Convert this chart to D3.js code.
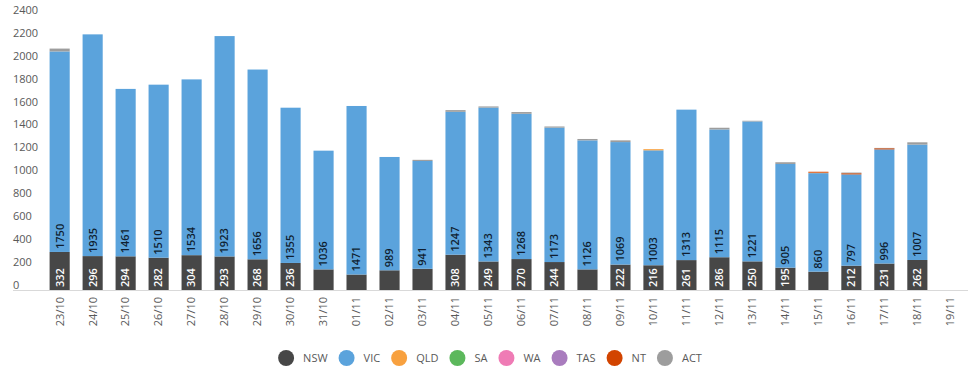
<!DOCTYPE html>
<html lang="en">
<head>
    <meta charset="UTF-8">
    <title>Daily cases by state</title>
    <script src="https://d3js.org/d3.v7.min.js"></script>
    <style>
        body {
            margin: 0;
            background-color: #ffffff;
            font-family: "Open Sans", Arial, sans-serif;
        }

        .axis text {
            font-size: 11px;
            fill: #595959;
        }

        .bar-label {
            font-size: 11px;
            font-weight: 600;
        }

        .legend text {
            font-size: 11px;
            fill: #595959;
        }
    </style>
</head>
<body>
<svg width="978" height="375"></svg>
<script>
    const dates = ["23/10", "24/10", "25/10", "26/10", "27/10", "28/10", "29/10", "30/10", "31/10",
        "01/11", "02/11", "03/11", "04/11", "05/11", "06/11", "07/11", "08/11", "09/11", "10/11",
        "11/11", "12/11", "13/11", "14/11", "15/11", "16/11", "17/11", "18/11", "19/11"];

    const nsw = [332, 296, 294, 282, 304, 293, 268, 236, 180, 135, 172, 185, 308, 249, 270, 244, 180, 222, 216,
        261, 286, 250, 195, 160, 212, 231, 262, 0];
    const vic = [1750, 1935, 1461, 1510, 1534, 1923, 1656, 1355, 1036, 1471, 989, 941, 1247, 1343, 1268, 1173, 1126, 1069, 1003,
        1313, 1115, 1221, 905, 860, 797, 996, 1007, 0];
    const qld = [0, 0, 0, 0, 0, 0, 0, 0, 0, 0, 0, 0, 0, 0, 0, 0, 0, 0, 10, 0, 0, 0, 0, 4, 0, 0, 0, 0];
    const sa  = [0, 0, 0, 0, 0, 0, 0, 0, 0, 0, 0, 0, 0, 0, 0, 0, 0, 0, 0, 0, 0, 0, 0, 0, 0, 0, 0, 0];
    const wa  = [0, 0, 0, 0, 0, 0, 0, 0, 0, 0, 0, 0, 0, 0, 0, 0, 0, 0, 0, 0, 0, 0, 0, 0, 0, 0, 0, 0];
    const tas = [0, 0, 0, 0, 0, 0, 0, 0, 0, 0, 0, 0, 0, 0, 0, 0, 0, 0, 0, 0, 0, 0, 0, 0, 0, 0, 0, 0];
    const nt  = [0, 0, 0, 0, 0, 0, 0, 0, 0, 0, 0, 0, 0, 0, 0, 0, 0, 0, 0, 0, 0, 0, 0, 8, 10, 10, 0, 0];
    const act = [25, 0, 0, 0, 0, 0, 0, 0, 0, 0, 0, 10, 15, 10, 15, 10, 12, 15, 0, 0, 15, 6, 15, 0, 6, 3, 20, 0];

    const states = ["NSW", "VIC", "QLD", "SA", "WA", "TAS", "NT", "ACT"];
    const seriesValues = [nsw, vic, qld, sa, wa, tas, nt, act];
    const colors = ["#474747", "#5ba3dc", "#f8a13f", "#5cb85c", "#ef7bb5", "#a97cbe", "#d24400", "#9d9d9d"];
    const yTicks = [0, 200, 400, 600, 800, 1000, 1200, 1400, 1600, 1800, 2000, 2200, 2400];

    // build a row per date for d3.stack
    const table = dates.map((d, i) => {
        const row = {date: d};
        states.forEach((s, k) => row[s] = seriesValues[k][i]);
        return row;
    });

    const svg = d3.select("svg");

    const x = d3.scaleBand().domain(dates).range([43, 967]).paddingInner(0.39).paddingOuter(0.2);
    const y = d3.scaleLinear().domain([0, 2400]).range([290, 15]);
    const color = d3.scaleOrdinal().domain(states).range(colors);

    const stacked = d3.stack().keys(states)(table);

    // y labels (no axis line, no gridlines)
    const yAxis = svg.append("g").attr("class", "axis");
    yAxis.selectAll("text")
        .data(yTicks)
        .join("text")
        .attr("x", 13)
        .attr("y", d => y(d) - 5)
        .attr("dy", "0.35em")
        .text(d => d);

    // bars
    svg.append("g")
        .selectAll("g")
        .data(stacked)
        .join("g")
        .attr("fill", d => color(d.key))
        .selectAll("rect")
        .data(d => d)
        .join("rect")
        .attr("x", d => x(d.data.date))
        .attr("width", x.bandwidth())
        .attr("y", d => y(d[1]))
        .attr("height", d => y(d[0]) - y(d[1]));

    // category axis
    const xAxis = svg.append("g").attr("class", "axis");
    xAxis.append("line")
        .attr("x1", 13).attr("x2", 968)
        .attr("y1", 290.5).attr("y2", 290.5)
        .attr("stroke", "#d9d9d9");
    xAxis.selectAll("text")
        .data(dates)
        .join("text")
        .attr("transform", d => `translate(${x(d) + x.bandwidth() / 2},297) rotate(-90)`)
        .attr("text-anchor", "end")
        .attr("dy", "0.35em")
        .text(d => d);

    // data labels for NSW and VIC
    const labelled = [
        {layer: stacked[0], fill: "#ffffff", show: v => v >= 190},
        {layer: stacked[1], fill: "#0f1e30", show: v => v > 0}
    ];
    labelled.forEach(l => {
        svg.append("g")
            .selectAll("text")
            .data(l.layer.filter(d => l.show(d[1] - d[0])))
            .join("text")
            .attr("class", "bar-label")
            .attr("fill", l.fill)
            .attr("transform", d => `translate(${x(d.data.date) + x.bandwidth() / 2},${y(d[0]) - 3}) rotate(-90)`)
            .attr("dy", "0.35em")
            .text(d => d[1] - d[0]);
    });

    // legend
    const legend = svg.append("g").attr("class", "legend");
    const items = legend.selectAll("g")
        .data(states)
        .join("g");
    items.append("circle")
        .attr("r", 8)
        .attr("cx", 0)
        .attr("cy", 0)
        .attr("fill", d => color(d));
    items.append("text")
        .attr("x", 17)
        .attr("dy", "0.35em")
        .text(d => d);

    const widths = [];
    items.each(function() {
        const w = this.querySelector("text").getComputedTextLength();
        widths.push(17 + w + 19);
    });
    const total = d3.sum(widths) - 19 + 8;
    let offset = 490 - total / 2 + 8;
    items.attr("transform", (d, i) => {
        const t = `translate(${offset},358)`;
        offset += widths[i];
        return t;
    });
</script>
</body>
</html>
